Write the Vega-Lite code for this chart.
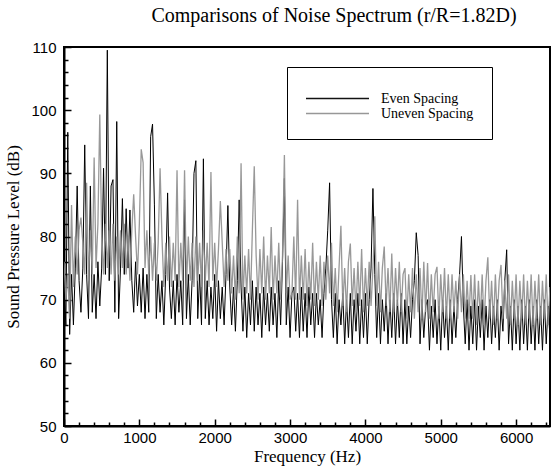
{
  "$schema": "https://vega.github.io/schema/vega-lite/v6.json",
  "width": 486,
  "height": 379,
  "autosize": {"type": "none"},
  "padding": {"left": 64, "top": 47, "right": 3, "bottom": 40},
  "background": "white",
  "title": {
    "text": "Comparisons of Noise Spectrum (r/R=1.82D)",
    "font": "Liberation Serif",
    "fontSize": 20,
    "fontWeight": "normal",
    "color": "black",
    "anchor": "middle",
    "dx": 27,
    "offset": 14
  },
  "config": {
    "view": {"stroke": "black", "strokeWidth": 2},
    "axis": {"grid": false, "zindex": 1}
  },
  "data": {
    "values": [
      {"f":0,"e":72,"u":76},{"f":25,"e":66,"u":70},{"f":50,"e":96.5,"u":74},{"f":75,"e":64.5,"u":67},
      {"f":100,"e":74,"u":85},{"f":125,"e":66,"u":72},{"f":150,"e":75,"u":80},{"f":175,"e":88,"u":74},
      {"f":200,"e":73,"u":81},{"f":225,"e":68,"u":83},{"f":250,"e":75,"u":79},{"f":275,"e":94.5,"u":74},
      {"f":300,"e":74,"u":88.5},{"f":325,"e":67,"u":73},{"f":350,"e":88,"u":81},{"f":375,"e":68,"u":74},
      {"f":400,"e":74,"u":92.5},{"f":425,"e":67,"u":75},{"f":450,"e":76,"u":82},{"f":475,"e":69,"u":99.3},
      {"f":500,"e":75,"u":80},{"f":525,"e":90.8,"u":74},{"f":550,"e":74,"u":82},{"f":575,"e":109.5,"u":75},
      {"f":600,"e":73,"u":81},{"f":625,"e":88,"u":74},{"f":650,"e":89,"u":82},{"f":675,"e":68,"u":73},
      {"f":700,"e":98.2,"u":80},{"f":725,"e":67,"u":74},{"f":750,"e":75,"u":81},{"f":775,"e":86,"u":75},
      {"f":800,"e":74,"u":82},{"f":825,"e":84.4,"u":74},{"f":850,"e":75,"u":80},{"f":875,"e":84.2,"u":73},
      {"f":900,"e":73,"u":81},{"f":925,"e":68,"u":86.7},{"f":950,"e":76,"u":80},{"f":975,"e":69,"u":74},
      {"f":1000,"e":74,"u":82},{"f":1025,"e":68,"u":93.8},{"f":1050,"e":75,"u":91.7},{"f":1075,"e":67,"u":75},
      {"f":1100,"e":74,"u":81},{"f":1125,"e":68,"u":74},{"f":1150,"e":95.8,"u":80},{"f":1175,"e":97.8,"u":73},
      {"f":1200,"e":85,"u":79},{"f":1225,"e":67,"u":73},{"f":1250,"e":74,"u":79},{"f":1275,"e":68,"u":90.8},
      {"f":1300,"e":73,"u":80},{"f":1325,"e":66,"u":72},{"f":1350,"e":74,"u":79},{"f":1375,"e":86.9,"u":73},
      {"f":1400,"e":72,"u":80},{"f":1425,"e":67,"u":72},{"f":1450,"e":73,"u":79},{"f":1475,"e":66,"u":73},
      {"f":1500,"e":74,"u":90.5},{"f":1525,"e":68,"u":72},{"f":1550,"e":73,"u":79},{"f":1575,"e":66,"u":73},
      {"f":1600,"e":85.8,"u":90.5},{"f":1625,"e":67,"u":72},{"f":1650,"e":74,"u":80},{"f":1675,"e":66,"u":73},
      {"f":1700,"e":73,"u":79},{"f":1725,"e":90,"u":72},{"f":1750,"e":92,"u":80},{"f":1775,"e":67,"u":73},
      {"f":1800,"e":74,"u":79},{"f":1825,"e":66,"u":72},{"f":1850,"e":92.3,"u":81},{"f":1875,"e":67,"u":73},
      {"f":1900,"e":73,"u":79},{"f":1925,"e":66,"u":72},{"f":1950,"e":72,"u":90.2},{"f":1975,"e":67,"u":73},
      {"f":2000,"e":74,"u":79},{"f":2025,"e":65,"u":72},{"f":2050,"e":73,"u":78},{"f":2075,"e":67,"u":85.6},
      {"f":2100,"e":72,"u":79},{"f":2125,"e":66,"u":72},{"f":2150,"e":74,"u":78},{"f":2175,"e":84.9,"u":73},
      {"f":2200,"e":72,"u":78},{"f":2225,"e":66,"u":71},{"f":2250,"e":72,"u":77},{"f":2275,"e":65,"u":70},
      {"f":2300,"e":73,"u":80},{"f":2325,"e":85.8,"u":71},{"f":2350,"e":72,"u":91.6},{"f":2375,"e":65,"u":70},
      {"f":2400,"e":72,"u":77},{"f":2425,"e":64,"u":71},{"f":2450,"e":71,"u":78},{"f":2475,"e":66,"u":70},
      {"f":2500,"e":73,"u":81},{"f":2525,"e":65,"u":91.1},{"f":2550,"e":72,"u":77},{"f":2575,"e":66,"u":70},
      {"f":2600,"e":71,"u":78},{"f":2625,"e":64,"u":71},{"f":2650,"e":72,"u":80},{"f":2675,"e":66,"u":70},
      {"f":2700,"e":71,"u":77},{"f":2725,"e":65,"u":71},{"f":2750,"e":72,"u":81.5},{"f":2775,"e":66,"u":70},
      {"f":2800,"e":71,"u":77},{"f":2825,"e":64,"u":71},{"f":2850,"e":73,"u":79},{"f":2875,"e":66,"u":70},
      {"f":2900,"e":76,"u":77},{"f":2925,"e":89.2,"u":92.9},{"f":2950,"e":66,"u":71},{"f":2975,"e":72,"u":77},
      {"f":3000,"e":64,"u":70},{"f":3025,"e":71,"u":71},{"f":3050,"e":72,"u":80},{"f":3075,"e":65,"u":70},
      {"f":3100,"e":71,"u":85.8},{"f":3125,"e":64,"u":70},{"f":3150,"e":72,"u":77},{"f":3175,"e":65,"u":70},
      {"f":3200,"e":71,"u":78},{"f":3225,"e":64,"u":69},{"f":3250,"e":72,"u":76},{"f":3275,"e":66,"u":70},
      {"f":3300,"e":71,"u":79},{"f":3325,"e":64,"u":69},{"f":3350,"e":71,"u":76},{"f":3375,"e":66,"u":70},
      {"f":3400,"e":70,"u":77},{"f":3425,"e":64,"u":69},{"f":3450,"e":71,"u":76},{"f":3475,"e":75,"u":70},
      {"f":3500,"e":81,"u":77},{"f":3525,"e":88.5,"u":71},{"f":3550,"e":70,"u":79},{"f":3575,"e":64,"u":69},
      {"f":3600,"e":71,"u":75},{"f":3625,"e":63,"u":68},{"f":3650,"e":70,"u":75},{"f":3675,"e":66,"u":81.7},
      {"f":3700,"e":71,"u":69},{"f":3725,"e":63,"u":75},{"f":3750,"e":70,"u":68},{"f":3775,"e":64,"u":76},
      {"f":3800,"e":71,"u":78.9},{"f":3825,"e":63,"u":69},{"f":3850,"e":70,"u":75},{"f":3875,"e":65,"u":68},
      {"f":3900,"e":71,"u":76},{"f":3925,"e":63,"u":69},{"f":3950,"e":70,"u":78},{"f":3975,"e":64,"u":68},
      {"f":4000,"e":71,"u":75},{"f":4025,"e":63,"u":69},{"f":4050,"e":70,"u":76},{"f":4075,"e":75,"u":69},
      {"f":4100,"e":87.6,"u":75},{"f":4125,"e":74,"u":83.2},{"f":4150,"e":64,"u":69},{"f":4175,"e":71,"u":76},
      {"f":4200,"e":63,"u":68},{"f":4225,"e":70,"u":75},{"f":4250,"e":65,"u":78.4},{"f":4275,"e":71,"u":69},
      {"f":4300,"e":63,"u":75},{"f":4325,"e":70,"u":68},{"f":4350,"e":64,"u":77.3},{"f":4375,"e":71,"u":68},
      {"f":4400,"e":63,"u":75},{"f":4425,"e":70,"u":69},{"f":4450,"e":64,"u":76},{"f":4475,"e":71,"u":68},
      {"f":4500,"e":63,"u":74},{"f":4525,"e":70,"u":75},{"f":4550,"e":63,"u":67},{"f":4575,"e":69,"u":74},
      {"f":4600,"e":64,"u":68},{"f":4625,"e":70,"u":75},{"f":4650,"e":73,"u":67},{"f":4675,"e":80.6,"u":74},
      {"f":4700,"e":77,"u":68},{"f":4725,"e":63,"u":75},{"f":4750,"e":70,"u":67},{"f":4775,"e":64,"u":76},
      {"f":4800,"e":69,"u":68},{"f":4825,"e":70,"u":75.8},{"f":4850,"e":62,"u":67},{"f":4875,"e":69,"u":74},
      {"f":4900,"e":64,"u":68},{"f":4925,"e":70,"u":74},{"f":4950,"e":63,"u":75.2},{"f":4975,"e":69,"u":67},
      {"f":5000,"e":62,"u":74},{"f":5025,"e":70,"u":68},{"f":5050,"e":64,"u":75},{"f":5075,"e":69,"u":67},
      {"f":5100,"e":62,"u":74},{"f":5125,"e":70,"u":67},{"f":5150,"e":63,"u":74},{"f":5175,"e":69,"u":68},
      {"f":5200,"e":64,"u":73},{"f":5225,"e":70,"u":67},{"f":5250,"e":74,"u":74},{"f":5275,"e":80,"u":68},
      {"f":5300,"e":69,"u":74},{"f":5325,"e":63,"u":67},{"f":5350,"e":70,"u":73},{"f":5375,"e":62,"u":67},
      {"f":5400,"e":69,"u":73.9},{"f":5425,"e":63,"u":67},{"f":5450,"e":70,"u":74},{"f":5475,"e":62,"u":66},
      {"f":5500,"e":69,"u":73},{"f":5525,"e":64,"u":67},{"f":5550,"e":70,"u":74},{"f":5575,"e":62,"u":66},
      {"f":5600,"e":69,"u":73},{"f":5625,"e":64,"u":76.7},{"f":5650,"e":70,"u":67},{"f":5675,"e":63,"u":73},
      {"f":5700,"e":69,"u":66},{"f":5725,"e":64,"u":74},{"f":5750,"e":70,"u":67},{"f":5775,"e":62,"u":73},
      {"f":5800,"e":69,"u":75.5},{"f":5825,"e":65,"u":67},{"f":5850,"e":73,"u":73},{"f":5875,"e":77.9,"u":67},
      {"f":5900,"e":63,"u":74},{"f":5925,"e":69,"u":66},{"f":5950,"e":62,"u":73},{"f":5975,"e":70,"u":67},
      {"f":6000,"e":63,"u":74},{"f":6025,"e":69,"u":66},{"f":6050,"e":62,"u":73},{"f":6075,"e":70,"u":67},
      {"f":6100,"e":63,"u":74},{"f":6125,"e":69,"u":66},{"f":6150,"e":62,"u":73},{"f":6175,"e":70,"u":67},
      {"f":6200,"e":63,"u":74},{"f":6225,"e":69,"u":66},{"f":6250,"e":62,"u":73},{"f":6275,"e":70,"u":67},
      {"f":6300,"e":63,"u":74},{"f":6325,"e":69,"u":66},{"f":6350,"e":62,"u":73},{"f":6375,"e":70,"u":67},
      {"f":6400,"e":63,"u":74},{"f":6425,"e":69,"u":66},{"f":6450,"e":64,"u":72}
    ]
  },
  "resolve": {"axis": {"x": "independent", "y": "independent"}},
  "layer": [
    {
      "mark": {"type": "line", "strokeWidth": 1, "clip": true},
      "encoding": {
        "x": {
          "field": "f", "type": "quantitative",
          "scale": {"domain": [0, 6450], "nice": false, "zero": false},
          "axis": {
            "orient": "bottom",
            "values": [0, 1000, 2000, 3000, 4000, 5000, 6000],
            "format": "d",
            "title": "Frequency (Hz)",
            "titleFont": "Liberation Serif", "titleFontSize": 17, "titleFontWeight": "normal", "titleColor": "black",
            "titlePadding": 3,
            "labelFont": "Liberation Sans", "labelFontSize": 15, "labelColor": "black",
            "labelPadding": 11,
            "ticks": true,
            "tickSize": -7, "tickColor": "black", "tickWidth": 1.5,
            "domainColor": "black", "domainWidth": 2,
            "labelFlush": false
          }
        },
        "y": {
          "field": "e", "type": "quantitative",
          "scale": {"domain": [50, 110], "nice": false, "zero": false},
          "axis": {
            "orient": "left",
            "values": [50, 60, 70, 80, 90, 100, 110],
            "title": "Sound Pressure Level (dB)",
            "titleFont": "Liberation Serif", "titleFontSize": 17, "titleFontWeight": "normal", "titleColor": "black",
            "titlePadding": 8,
            "labelFont": "Liberation Sans", "labelFontSize": 15, "labelColor": "black",
            "labelPadding": 15,
            "ticks": true,
            "tickSize": -7, "tickColor": "black", "tickWidth": 1.5,
            "domainColor": "black", "domainWidth": 2
          }
        },
        "color": {
          "datum": "Even Spacing",
          "type": "nominal",
          "scale": {"domain": ["Even Spacing", "Uneven Spacing"], "range": ["#000000", "#8f8f8f"]},
          "legend": {
            "orient": "none",
            "legendX": 223,
            "legendY": 20,
            "title": " ",
            "titleFontSize": 7,
            "titlePadding": 0,
            "symbolType": "stroke",
            "symbolSize": 3969,
            "symbolStrokeWidth": 1.5,
            "clipHeight": 13,
            "labelFont": "Liberation Serif",
            "labelFontSize": 14,
            "labelColor": "black",
            "labelOffset": 11,
            "rowPadding": 0,
            "padding": 18,
            "strokeColor": "black",
            "fillColor": "white"
          }
        }
      }
    },
    {
      "mark": {"type": "line", "strokeWidth": 1.3, "opacity": 0.92, "clip": true},
      "encoding": {
        "x": {
          "field": "f", "type": "quantitative",
          "axis": {
            "orient": "bottom",
            "values": [200,400,600,800,1200,1400,1600,1800,2200,2400,2600,2800,3200,3400,3600,3800,4200,4400,4600,4800,5200,5400,5600,5800,6200,6400],
            "labels": false, "domain": false, "title": null,
            "ticks": true,
            "tickSize": -4, "tickColor": "black", "tickWidth": 1.5
          }
        },
        "y": {
          "field": "u", "type": "quantitative",
          "axis": {
            "orient": "left",
            "values": [52,54,56,58,62,64,66,68,72,74,76,78,82,84,86,88,92,94,96,98,102,104,106,108],
            "labels": false, "domain": false, "title": null,
            "ticks": true,
            "tickSize": -4, "tickColor": "black", "tickWidth": 1.5
          }
        },
        "color": {"datum": "Uneven Spacing", "type": "nominal"}
      }
    }
  ]
}
